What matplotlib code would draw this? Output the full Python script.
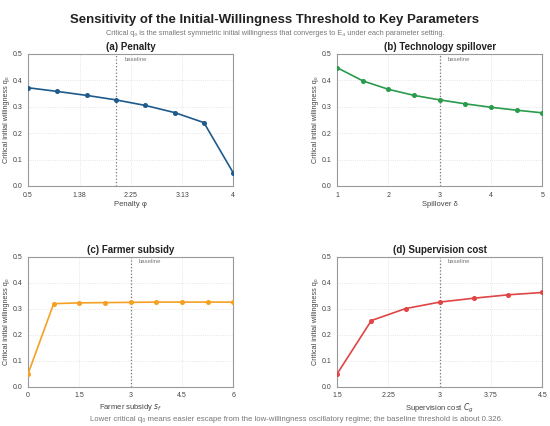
import matplotlib
matplotlib.use('Agg')
import matplotlib.pyplot as plt

plt.rcParams['font.family'] = ['Liberation Sans', 'DejaVu Sans']

# panel (a) penalty
penalty_x = [0.5, 1.0, 1.5, 2.0, 2.5, 3.0, 3.5, 4.0]
penalty_q = [0.372, 0.358, 0.343, 0.326, 0.305, 0.278, 0.240, 0.050]
penalty_ticks = [0.5, 1.38, 2.25, 3.13, 4]
penalty_ticklabels = ['0.5', '1.38', '2.25', '3.13', '4']

# panel (b) spillover
spill_x = [1.0, 1.5, 2.0, 2.5, 3.0, 3.5, 4.0, 4.5, 5.0]
spill_q = [0.448, 0.398, 0.366, 0.343, 0.326, 0.311, 0.298, 0.287, 0.277]
spill_ticks = [1, 2, 3, 4, 5]
spill_ticklabels = ['1', '2', '3', '4', '5']

# panel (c) farmer subsidy
sub_x = [0, 0.75, 1.5, 2.25, 3.0, 3.75, 4.5, 5.25, 6.0]
sub_q = [0.050, 0.320, 0.323, 0.324, 0.325, 0.326, 0.326, 0.326, 0.326]
sub_ticks = [0, 1.5, 3, 4.5, 6]
sub_ticklabels = ['0', '1.5', '3', '4.5', '6']

# panel (d) supervision cost
sup_x = [1.5, 2.0, 2.5, 3.0, 3.5, 4.0, 4.5]
sup_q = [0.050, 0.255, 0.301, 0.326, 0.341, 0.354, 0.363]
sup_ticks = [1.5, 2.25, 3, 3.75, 4.5]
sup_ticklabels = ['1.5', '2.25', '3', '3.75', '4.5']

baselines = [2.0, 3.0, 3.0, 3.0]

fig = plt.figure(figsize=(5.5, 4.26), dpi=100)
fig.patch.set_facecolor('white')

fig.text(0.5, 0.953, 'Sensitivity of the Initial-Willingness Threshold to Key Parameters',
         ha='center', va='center', fontsize=9.5, fontweight='bold', color='#222222')
fig.text(0.5, 0.922, 'Critical q₀ is the smallest symmetric initial willingness that converges to E₄ under each parameter setting.',
         ha='center', va='center', fontsize=5.3, color='#777777')
fig.text(0.54, 0.016, 'Lower critical q₀ means easier escape from the low-willingness oscillatory regime; the baseline threshold is about 0.326.',
         ha='center', va='center', fontsize=5.6, color='#777777')

panels = [
    ([0.051, 0.5634, 0.373, 0.31], penalty_x, penalty_q, penalty_ticks, penalty_ticklabels,
     '(a) Penalty', 'Penalty φ', '#1f5a8c', (0.5, 4)),
    ([0.613, 0.5634, 0.373, 0.31], spill_x, spill_q, spill_ticks, spill_ticklabels,
     '(b) Technology spillover', 'Spillover δ', '#2a9a4c', (1, 5)),
    ([0.051, 0.092, 0.373, 0.305], sub_x, sub_q, sub_ticks, sub_ticklabels,
     '(c) Farmer subsidy', 'Farmer subsidy $s_f$', '#f5a023', (0, 6)),
    ([0.613, 0.092, 0.373, 0.305], sup_x, sup_q, sup_ticks, sup_ticklabels,
     '(d) Supervision cost', 'Supervision cost $C_g$', '#e04545', (1.5, 4.5)),
]

for i, (pos, xs, ys, ticks, labels, title, xlabel, color, xlim) in enumerate(panels):
    ax = fig.add_axes(pos)
    ax.plot(xs, ys, color=color, lw=1.2, marker='o', markersize=2.6, zorder=3)
    ax.set_xlim(*xlim)
    ax.set_ylim(0, 0.5)
    ax.set_xticks(ticks)
    ax.set_xticklabels(labels)
    ax.set_yticks([0, 0.1, 0.2, 0.3, 0.4, 0.5])
    ax.set_yticklabels(['0.0', '0.1', '0.2', '0.3', '0.4', '0.5'])
    ax.tick_params(labelsize=5, colors='#444444', length=0, pad=4)
    ax.grid(True, color='#dddddd', linestyle=':', lw=0.6)
    for s in ax.spines.values():
        s.set_color('#999999')
        s.set_linewidth(0.8)
    ax.axvline(baselines[i], color='#777777', linestyle=':', lw=0.9, zorder=2)
    ax.text(baselines[i] + (xlim[1] - xlim[0]) * 0.04, 0.49, 'baseline',
            fontsize=4.3, color='#777777', va='top')
    ax.set_title(title, fontsize=7, fontweight='bold', color='#222222', pad=3)
    ax.set_xlabel(xlabel, fontsize=5.5, color='#444444', labelpad=2)
    ax.set_ylabel('Critical initial willingness q₀', fontsize=5.2, color='#444444', labelpad=2)

fig.savefig('out.png', dpi=100, facecolor='white')
